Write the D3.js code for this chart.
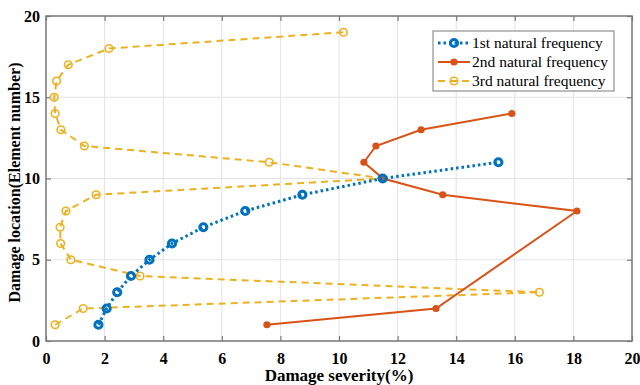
<!DOCTYPE html>
<html>
<head>
<meta charset="utf-8">
<script src="https://cdn.jsdelivr.net/npm/d3@7"></script>
<style>
  body { margin: 0; background: #fff; }
</style>
</head>
<body>
<svg id="chart" width="640" height="385"></svg>
<script>
// damage location (element number) for each series
var elem1 = [1, 2, 3, 4, 5, 6, 7, 8, 9, 10, 11];
var sev1 = [1.79, 2.07, 2.43, 2.9, 3.53, 4.3, 5.37, 6.8, 8.75, 11.49, 15.44];

var elem2 = [1, 2, 8, 9, 10, 11, 12, 13, 14];
var sev2 = [7.54, 13.31, 18.12, 13.54, 11.5, 10.85, 11.26, 12.8, 15.9];

var elem3 = [1, 2, 3, 4, 5, 6, 7, 8, 9, 10, 11, 12, 13, 14, 15, 16, 17, 18, 19];
var sev3 = [0.31, 1.27, 16.84, 3.21, 0.85, 0.5, 0.48, 0.68, 1.71, 11.49, 7.62,
            1.31, 0.51, 0.31, 0.28, 0.36, 0.76, 2.15, 10.15];

var xTicks = [0, 2, 4, 6, 8, 10, 12, 14, 16, 18, 20];
var yTicks = [0, 5, 10, 15, 20];
var seriesNames = ["1st natural frequency", "2nd natural frequency", "3rd natural frequency"];

var serif = "'Liberation Serif', 'Times New Roman', 'DejaVu Serif', serif";

var svg = d3.select("#chart").style("font-family", serif);
var margin = {top: 16, right: 8, bottom: 44, left: 46};
var width = 640 - margin.left - margin.right,
    height = 385 - margin.top - margin.bottom;

var x = d3.scaleLinear().domain([0, 20]).range([0, width]);
var y = d3.scaleLinear().domain([0, 20]).range([height, 0]);

var g = svg.append("g").attr("transform", "translate(" + margin.left + "," + margin.top + ")");

// grid
g.selectAll(".gx").data(xTicks).enter().append("line")
  .attr("x1", x).attr("x2", x).attr("y1", 0).attr("y2", height)
  .attr("stroke", "#e3e3e3").attr("stroke-width", 1);
g.selectAll(".gy").data(yTicks).enter().append("line")
  .attr("y1", y).attr("y2", y).attr("x1", 0).attr("x2", width)
  .attr("stroke", "#e3e3e3").attr("stroke-width", 1);

// axes (ticks inside, on all four sides)
var axisColor = "#7a7a7a";
function styleAxis(sel) {
  sel.attr("font-family", null);
  sel.select(".domain").remove();
  sel.selectAll(".tick line").attr("stroke", axisColor).attr("stroke-width", 1.2);
  sel.selectAll(".tick text")
    .attr("fill", "#000")
    .style("font-family", serif)
    .style("font-size", "16px")
    .style("font-weight", "bold");
}
g.append("g").attr("transform", "translate(0," + height + ")")
  .call(d3.axisBottom(x).tickValues(xTicks).tickSize(-5).tickPadding(12).tickFormat(d3.format("d")))
  .call(styleAxis);
g.append("g")
  .call(d3.axisTop(x).tickValues(xTicks).tickSize(-5).tickFormat(""))
  .call(styleAxis);
g.append("g")
  .call(d3.axisLeft(y).tickValues(yTicks).tickSize(-5).tickPadding(6).tickFormat(d3.format("d")))
  .call(styleAxis);
g.append("g").attr("transform", "translate(" + width + ",0)")
  .call(d3.axisRight(y).tickValues(yTicks).tickSize(-5).tickFormat(""))
  .call(styleAxis);

g.append("rect").attr("width", width).attr("height", height)
  .attr("fill", "none").attr("stroke", axisColor).attr("stroke-width", 1.5);

// series
var line = d3.line().x(function(d) { return x(d[0]); }).y(function(d) { return y(d[1]); });
function pairs(sev, elem) { return sev.map(function(v, i) { return [v, elem[i]]; }); }

var series = [
  {data: pairs(sev3, elem3), color: "#EDB120", dash: "7,5", width: 2, r: 3.8, sw: 1.6, fill: "none"},
  {data: pairs(sev2, elem2), color: "#D95319", dash: null, width: 2, r: 3.6, sw: 0, fill: "#D95319"},
  {data: pairs(sev1, elem1), color: "#0072BD", dash: "2.5,3", width: 3, r: 3.6, sw: 3, fill: "none"}
];

series.forEach(function(s) {
  g.append("path").datum(s.data)
    .attr("d", line)
    .attr("fill", "none")
    .attr("stroke", s.color)
    .attr("stroke-width", s.width)
    .attr("stroke-dasharray", s.dash);
  g.selectAll(null).data(s.data).enter().append("circle")
    .attr("cx", function(d) { return x(d[0]); })
    .attr("cy", function(d) { return y(d[1]); })
    .attr("r", s.r)
    .attr("fill", s.fill)
    .attr("stroke", s.color)
    .attr("stroke-width", s.sw);
});

// legend
var legend = svg.append("g").attr("transform", "translate(433,31)");
legend.append("rect").attr("width", 181).attr("height", 60)
  .attr("fill", "#fff").attr("stroke", axisColor).attr("stroke-width", 1);
var legendStyle = [series[2], series[1], series[0]];
seriesNames.forEach(function(name, i) {
  var s = legendStyle[i];
  var ly = 12 + i * 19;
  legend.append("line").attr("x1", 5).attr("x2", 37).attr("y1", ly).attr("y2", ly)
    .attr("stroke", s.color).attr("stroke-width", s.width).attr("stroke-dasharray", s.dash);
  legend.append("circle").attr("cx", 21).attr("cy", ly).attr("r", s.r)
    .attr("fill", s.fill).attr("stroke", s.color).attr("stroke-width", s.sw);
  legend.append("text").attr("x", 39).attr("y", ly).attr("dy", "0.35em")
    .style("font-family", serif)
    .style("font-size", "15.5px").text(name);
});

// axis titles
svg.append("text")
  .attr("x", margin.left + width / 2).attr("y", 381)
  .attr("text-anchor", "middle")
  .style("font-family", serif)
  .style("font-size", "17px").style("font-weight", "bold")
  .text("Damage severity(%)");
svg.append("text")
  .attr("transform", "translate(20," + (margin.top + height / 2 + 4) + ") rotate(-90)")
  .attr("text-anchor", "middle")
  .style("font-family", serif)
  .style("font-size", "16px").style("font-weight", "bold")
  .text("Damage location(Element number)");
</script>
</body>
</html>
